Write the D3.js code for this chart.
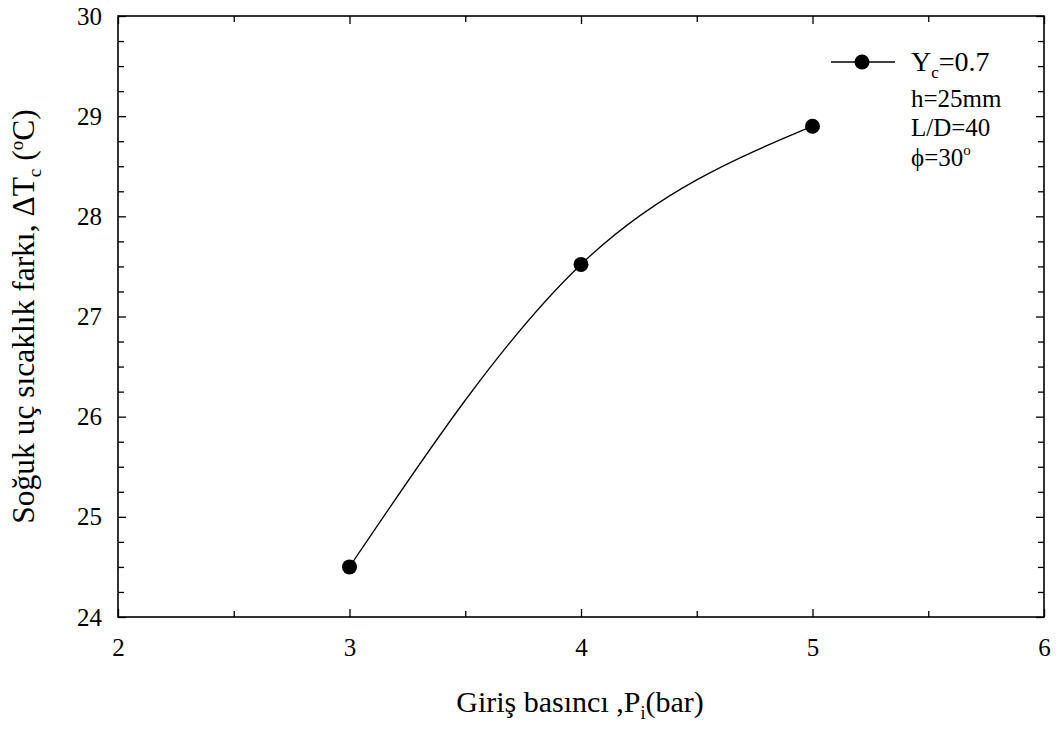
<!DOCTYPE html>
<html>
<head>
<meta charset="utf-8">
<script src="https://cdn.jsdelivr.net/npm/d3@7"></script>
<style>
  body { margin: 0; background: #fff; }
  svg text { font-family: "Liberation Serif", "DejaVu Serif", serif; fill: #000; }
</style>
</head>
<body>
<div id="chart"></div>
<script>
var pressure = [3, 4, 5];
var deltaT = [24.5, 27.52, 28.9];
var xTicks = [2, 3, 4, 5, 6];
var yTicks = [24, 25, 26, 27, 28, 29, 30];
var legendNotes = ["h=25mm", "L/D=40"];

var width = 1059, height = 736;
var margin = {top: 16, right: 15, bottom: 119, left: 118};
var innerW = width - margin.left - margin.right;
var innerH = height - margin.top - margin.bottom;
var serif = '"Liberation Serif", "DejaVu Serif", serif';

var svg = d3.select("#chart").append("svg")
    .attr("width", width)
    .attr("height", height);

var g = svg.append("g")
    .attr("transform", "translate(" + margin.left + "," + margin.top + ")");

var xScale = d3.scaleLinear().domain([2, 6]).range([0, innerW]);
var yScale = d3.scaleLinear().domain([24, 30]).range([innerH, 0]);

var xMinor = d3.range(2, 6.01, 0.5).filter(function(v){ return v % 1 !== 0; });
var yMinor = d3.range(24, 30.01, 0.25).filter(function(v){ return v % 1 !== 0; });

function styleAxis(sel){
    sel.attr("font-family", serif).attr("font-size", 25);
    sel.select(".domain").remove();
    sel.selectAll("line").attr("stroke", "#000").attr("stroke-width", 1.3);
    sel.selectAll("text").attr("fill", "#000")
       .style("font-family", serif).style("font-size", "25px");
}

// bottom
g.append("g").attr("transform", "translate(0," + innerH + ")")
  .call(d3.axisBottom(xScale).tickValues(xTicks).tickSize(-8).tickPadding(21).tickFormat(d3.format("d")))
  .call(styleAxis);
g.append("g").attr("transform", "translate(0," + innerH + ")")
  .call(d3.axisBottom(xScale).tickValues(xMinor).tickSize(-6).tickFormat(""))
  .call(styleAxis);
// top
g.append("g")
  .call(d3.axisTop(xScale).tickValues(xTicks).tickSize(-8).tickFormat(""))
  .call(styleAxis);
g.append("g")
  .call(d3.axisTop(xScale).tickValues(xMinor).tickSize(-6).tickFormat(""))
  .call(styleAxis);
// left
g.append("g")
  .call(d3.axisLeft(yScale).tickValues(yTicks).tickSize(-8).tickPadding(16).tickFormat(d3.format("d")))
  .call(styleAxis);
g.append("g")
  .call(d3.axisLeft(yScale).tickValues(yMinor).tickSize(-6).tickFormat(""))
  .call(styleAxis);
// right
g.append("g").attr("transform", "translate(" + innerW + ",0)")
  .call(d3.axisRight(yScale).tickValues(yTicks).tickSize(-8).tickFormat(""))
  .call(styleAxis);
g.append("g").attr("transform", "translate(" + innerW + ",0)")
  .call(d3.axisRight(yScale).tickValues(yMinor).tickSize(-6).tickFormat(""))
  .call(styleAxis);

// frame
g.append("rect")
  .attr("width", innerW).attr("height", innerH)
  .attr("fill", "none").attr("stroke", "#000").attr("stroke-width", 1.6);

var data = pressure.map(function(p, i){ return {x: p, y: deltaT[i]}; });

var line = d3.line()
    .x(function(d){ return xScale(d.x); })
    .y(function(d){ return yScale(d.y); })
    .curve(d3.curveNatural);

g.append("path").datum(data)
  .attr("d", line)
  .attr("fill", "none").attr("stroke", "#000").attr("stroke-width", 1.3);

g.selectAll("circle.pt").data(data).enter().append("circle")
  .attr("class", "pt")
  .attr("cx", function(d){ return xScale(d.x); })
  .attr("cy", function(d){ return yScale(d.y); })
  .attr("r", 7.5).attr("fill", "#000");

// legend
var lg = svg.append("g");
lg.append("line").attr("x1", 831).attr("x2", 895).attr("y1", 62).attr("y2", 62)
  .attr("stroke", "#000").attr("stroke-width", 1.3);
lg.append("circle").attr("cx", 862).attr("cy", 62).attr("r", 7.5).attr("fill", "#000");
var t1 = lg.append("text").attr("x", 911).attr("y", 71).style("font-size", "28px");
t1.append("tspan").text("Y");
t1.append("tspan").attr("dy", 7).style("font-size", "17px").text("c");
t1.append("tspan").attr("dy", -7).text("=0.7");

legendNotes.forEach(function(s, i){
    lg.append("text").attr("x", 911).attr("y", 107 + i * 29)
      .style("font-size", "25px").text(s);
});
var t4 = lg.append("text").attr("x", 911).attr("y", 166).style("font-size", "25px");
t4.append("tspan").text("\u03d5=30");
t4.append("tspan").attr("dy", -11).style("font-size", "15px").text("o");

// axis titles
var xt = svg.append("text")
  .attr("x", 580).attr("y", 712)
  .attr("text-anchor", "middle")
  .style("font-size", "30px");
xt.append("tspan").text("Giri\u015f bas\u0131nc\u0131 ,P");
xt.append("tspan").attr("dy", 7).style("font-size", "18px").text("i");
xt.append("tspan").attr("dy", -7).text("(bar)");

var yt = svg.append("text")
  .attr("transform", "translate(34," + (margin.top + innerH / 2) + ") rotate(-90)")
  .attr("text-anchor", "middle")
  .style("font-size", "31.5px");
yt.append("tspan").text("So\u011fuk u\u00e7 s\u0131cakl\u0131k fark\u0131, \u0394T");
yt.append("tspan").attr("dy", 7).style("font-size", "19px").text("c");
yt.append("tspan").attr("dy", -7).text(" (");
yt.append("tspan").attr("dy", -11).style("font-size", "19px").text("o");
yt.append("tspan").attr("dy", 11).text("C)");
</script>
</body>
</html>
